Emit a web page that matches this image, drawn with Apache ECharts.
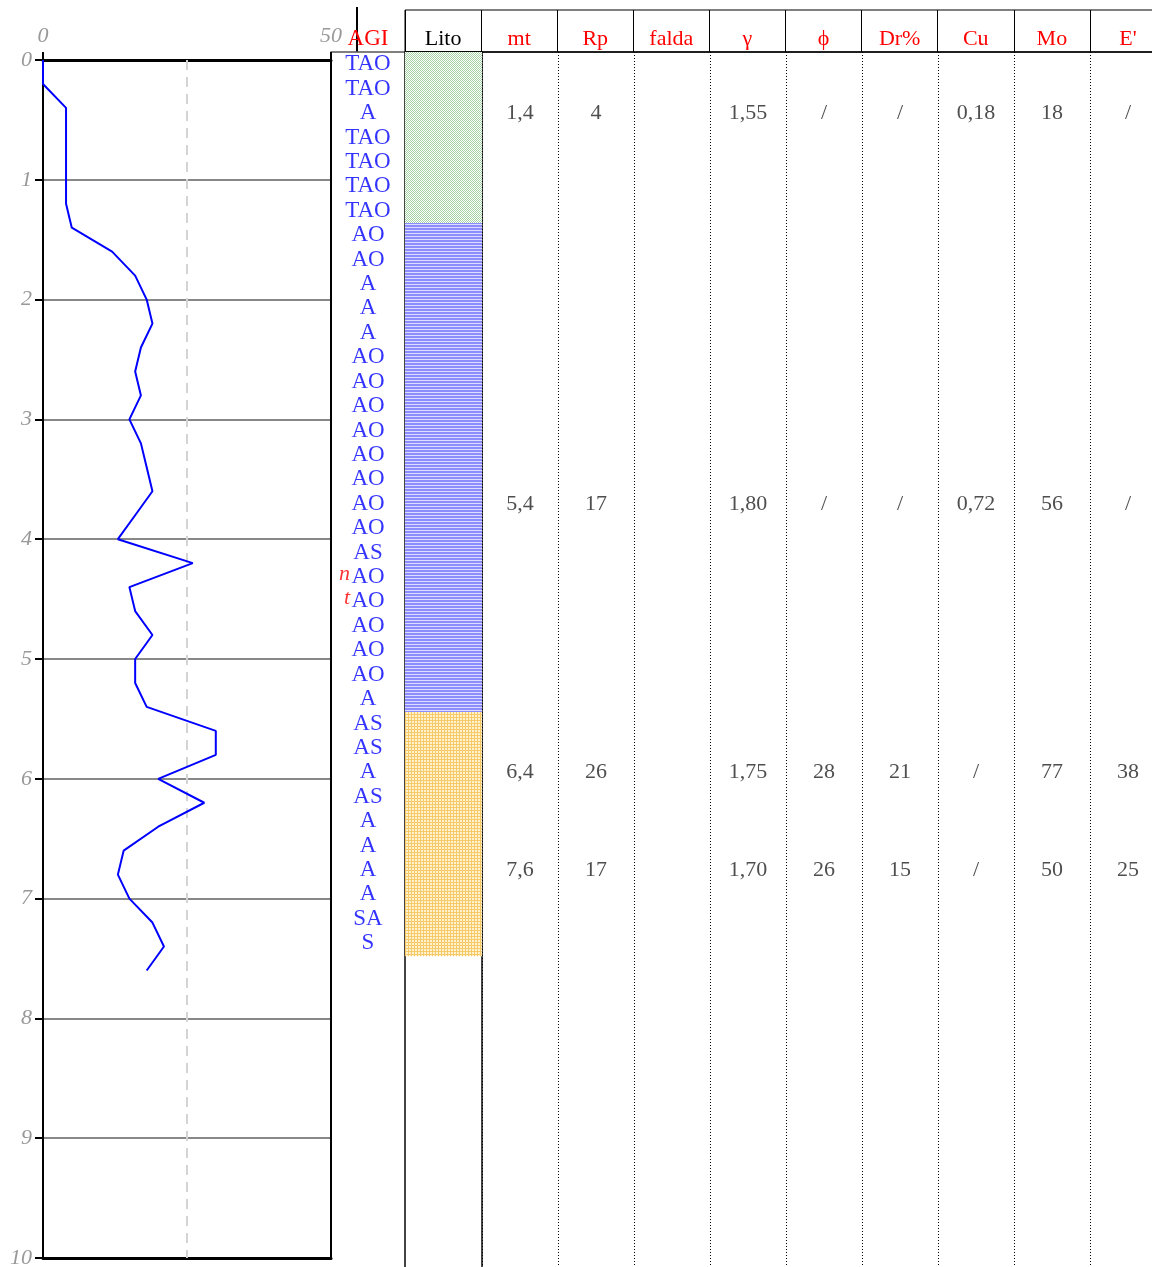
<!DOCTYPE html>
<html>
<head>
<meta charset="utf-8">
<script src="https://cdn.jsdelivr.net/npm/echarts@6/dist/echarts.min.js"></script>
<style>
html, body { margin: 0; padding: 0; background: #fff; }
#chart { width: 1152px; height: 1267px; }
</style>
</head>
<body>
<div id="chart"></div>
<script>
// penetrometer curve: depth (m) vs reading
var depth = [0, 0.2, 0.4, 0.6, 0.8, 1.0, 1.2, 1.4, 1.6, 1.8, 2.0, 2.2, 2.4, 2.6, 2.8, 3.0, 3.2, 3.4, 3.6, 3.8,
             4.0, 4.2, 4.4, 4.6, 4.8, 5.0, 5.2, 5.4, 5.6, 5.8, 6.0, 6.2, 6.4, 6.6, 6.8, 7.0, 7.2, 7.4, 7.6];
var resist = [0, 0, 4, 4, 4, 4, 4, 5, 12, 16, 18, 19, 17, 16, 17, 15, 17, 18, 19, 16,
              13, 26, 15, 16, 19, 16, 16, 18, 30, 30, 20, 28, 20, 14, 13, 15, 19, 21, 18];

// AGI classification, one per row
var agiCodes = ['TAO', 'TAO', 'A', 'TAO', 'TAO', 'TAO', 'TAO', 'AO', 'AO', 'A', 'A', 'A', 'AO', 'AO', 'AO',
                'AO', 'AO', 'AO', 'AO', 'AO', 'AS', 'AO', 'AO', 'AO', 'AO', 'AO', 'A', 'AS', 'AS', 'A',
                'AS', 'A', 'A', 'A', 'A', 'SA', 'S'];
var agiNoteRow = [21, 22];
var agiNoteText = ['n', 't'];

// lithology layers, thickness in m
var litoThick = [1.4, 4.0, 2.0];

// sample table
var colNames = ['mt', 'Rp', 'falda', 'γ', 'ϕ', 'Dr%', 'Cu', 'Mo', "E'"];
var sampleRow = [2, 18, 29, 33];
var mt = [1.4, 5.4, 6.4, 7.6];
var rp = [4, 17, 26, 17];
var falda = [];
var gamma = [1.55, 1.80, 1.75, 1.70];
var phi = [null, null, 28, 26];
var dr = [null, null, 21, 15];
var cu = [0.18, 0.72, null, null];
var mo = [18, 56, 77, 50];
var eMod = [null, null, 38, 25];

var FONT = '"Liberation Serif", "DejaVu Serif", serif';

function fmt(v, dec) {
    if (v === null) return '/';
    return v.toFixed(dec).replace('.', ',');
}

function pattern(w, h, paint) {
    var c = document.createElement('canvas');
    c.width = w; c.height = h;
    var ctx = c.getContext('2d');
    ctx.fillStyle = '#fff';
    ctx.fillRect(0, 0, w, h);
    paint(ctx);
    return { image: c, repeat: 'repeat' };
}
var greenDots = pattern(2, 2, function(ctx) {
    ctx.fillStyle = '#a6d3a6';
    ctx.fillRect(0, 0, 1, 1);
    ctx.fillRect(1, 1, 1, 1);
});
var blueLines = pattern(1, 3, function(ctx) {
    ctx.fillStyle = '#8c8cff';
    ctx.fillRect(0, 0, 1, 2);
    ctx.fillStyle = '#dcdcff';
    ctx.fillRect(0, 2, 1, 1);
});
var orangeGrid = pattern(3, 3, function(ctx) {
    ctx.fillStyle = '#fff2cc';
    ctx.fillRect(0, 0, 3, 3);
    ctx.fillStyle = '#f6c96a';
    ctx.fillRect(0, 0, 3, 1);
    ctx.fillRect(0, 0, 1, 3);
});
var litoFill = [greenDots, blueLines, orangeGrid];

var series = [];

// dashed reference at 25 (behind the curve)
series.push({
    type: 'line', xAxisIndex: 0, yAxisIndex: 0, data: [], z: 1,
    markLine: {
        silent: true, symbol: 'none', label: { show: false },
        lineStyle: { color: '#d4d4d4', width: 2, type: [10, 7] },
        data: [{ xAxis: 25 }]
    }
});
series.push({
    type: 'line', xAxisIndex: 0, yAxisIndex: 0, z: 5,
    symbol: 'none',
    lineStyle: { color: '#0000ff', width: 2 },
    data: depth.map(function(d, i) { return [resist[i], d]; })
});

// AGI column
series.push({
    type: 'scatter', xAxisIndex: 2, yAxisIndex: 2,
    symbolSize: 1, itemStyle: { color: 'rgba(0,0,0,0)' },
    label: {
        show: true, position: 'inside', color: '#0000ff', fontSize: 23, fontFamily: FONT,
        formatter: function(p) { return agiCodes[p.dataIndex]; }
    },
    data: agiCodes.map(function(c, i) { return [0, i]; })
});
series.push({
    type: 'scatter', xAxisIndex: 2, yAxisIndex: 2,
    symbolSize: 1, itemStyle: { color: 'rgba(0,0,0,0)' },
    label: {
        show: true, position: 'inside', color: '#ff0000', fontSize: 22, fontFamily: FONT,
        fontStyle: 'italic', align: 'right', offset: [-18, -3],
        formatter: function(p) { return agiNoteText[p.dataIndex]; }
    },
    data: agiNoteRow.map(function(r) { return [0, r]; })
});

// lithology
litoThick.forEach(function(t, i) {
    series.push({
        type: 'bar', xAxisIndex: 3, yAxisIndex: 3, stack: 'lito',
        barWidth: '100%', itemStyle: { color: litoFill[i] },
        data: [t]
    });
});

// sample table values
var tableCols = [
    { v: mt, dec: 1 }, { v: rp, dec: 0 }, { v: falda, dec: 0 }, { v: gamma, dec: 2 },
    { v: phi, dec: 0 }, { v: dr, dec: 0 }, { v: cu, dec: 2 }, { v: mo, dec: 0 }, { v: eMod, dec: 0 }
];
tableCols.forEach(function(col, ci) {
    if (!col.v.length) return;
    series.push({
        type: 'scatter', xAxisIndex: 4, yAxisIndex: 4,
        symbolSize: 1, itemStyle: { color: 'rgba(0,0,0,0)' },
        label: {
            show: true, position: 'inside', color: '#222', fontSize: 22, fontFamily: FONT,
            formatter: function(p) { return fmt(col.v[p.dataIndex], col.dec); }
        },
        data: sampleRow.map(function(r) { return [ci, r]; })
    });
});

var headerCats = [{ value: 'Lito', textStyle: { color: '#000' } }].concat(colNames);

var option = {
    animation: false,
    textStyle: { fontFamily: FONT },
    grid: [
        { left: 43, top: 60, width: 288, height: 1198, outerBoundsMode: 'none' },
        { left: 331, top: 52, width: 74, height: 1216, outerBoundsMode: 'none' },
        { left: 405, top: 52, width: 77, height: 1216, outerBoundsMode: 'none',
          show: true, borderColor: '#444', borderWidth: 2, backgroundColor: 'transparent' },
        { left: 482, top: 52, width: 684, height: 1216, outerBoundsMode: 'none' },
        { left: 405, top: 10, width: 761, height: 42, outerBoundsMode: 'none',
          show: true, borderColor: '#000', borderWidth: 1, backgroundColor: 'transparent' }
    ],
    xAxis: [
        { gridIndex: 0, type: 'value', min: 0, max: 50, interval: 50, position: 'top', z: 3,
          axisLine: { show: true, onZero: false, lineStyle: { color: '#000', width: 3 } },
          axisTick: { show: true, length: 8, lineStyle: { color: '#000', width: 2 } },
          axisLabel: { color: '#999', fontSize: 22, fontStyle: 'italic', margin: 13 },
          splitLine: { show: false } },
        { gridIndex: 0, type: 'value', min: 0, max: 50, position: 'bottom', z: 3,
          axisLine: { show: true, onZero: false, lineStyle: { color: '#000', width: 3 } },
          axisTick: { show: false }, axisLabel: { show: false }, splitLine: { show: false } },
        { gridIndex: 1, type: 'category', data: ['AGI'], position: 'top',
          axisLine: { show: true, onZero: false, lineStyle: { color: '#555', width: 1.5 } },
          axisTick: { show: false },
          axisLabel: { color: '#ff0000', fontSize: 23, margin: 2 },
          splitLine: { show: false } },
        { gridIndex: 2, type: 'category', data: ['lito'], show: false },
        { gridIndex: 3, type: 'category', data: colNames,
          axisLine: { show: false }, axisTick: { show: false }, axisLabel: { show: false },
          splitLine: { show: true, interval: 0, lineStyle: { color: '#000', width: 1, type: [1, 2] } } },
        { gridIndex: 4, type: 'category', data: headerCats, position: 'bottom',
          axisLine: { show: true, onZero: false, lineStyle: { color: '#000', width: 1.5 } },
          axisTick: { show: false },
          axisLabel: { inside: true, interval: 0, margin: 2, color: '#ff0000', fontSize: 22 },
          splitLine: { show: true, interval: 0, lineStyle: { color: '#000', width: 1 } } }
    ],
    yAxis: [
        { gridIndex: 0, type: 'value', min: 0, max: 10, interval: 1, inverse: true,
          axisLine: { show: true, onZero: false, lineStyle: { color: '#000', width: 2 } },
          axisTick: { show: true, length: 8, lineStyle: { color: '#000', width: 2 } },
          axisLabel: { color: '#999', fontSize: 22, fontStyle: 'italic', margin: 11 },
          splitLine: { show: true, lineStyle: { color: '#888', width: 2 } } },
        { gridIndex: 0, type: 'value', min: 0, max: 10, inverse: true, position: 'right', z: 3,
          axisLine: { show: true, onZero: false, lineStyle: { color: '#000', width: 2 } },
          axisTick: { show: false }, axisLabel: { show: false }, splitLine: { show: false } },
        { gridIndex: 1, type: 'value', min: -0.5, max: 49.3, inverse: true, show: false },
        { gridIndex: 2, type: 'value', min: 0, max: 9.95, inverse: true, show: false },
        { gridIndex: 3, type: 'value', min: -0.5, max: 49.3, inverse: true, show: false },
        { gridIndex: 4, type: 'value', show: false }
    ],
    graphic: [
        { type: 'line', shape: { x1: 357, y1: 7, x2: 357, y2: 52 },
          style: { stroke: '#000', lineWidth: 2 } }
    ],
    series: series
};

var chart = echarts.init(document.getElementById('chart'));
chart.setOption(option);
</script>
</body>
</html>
